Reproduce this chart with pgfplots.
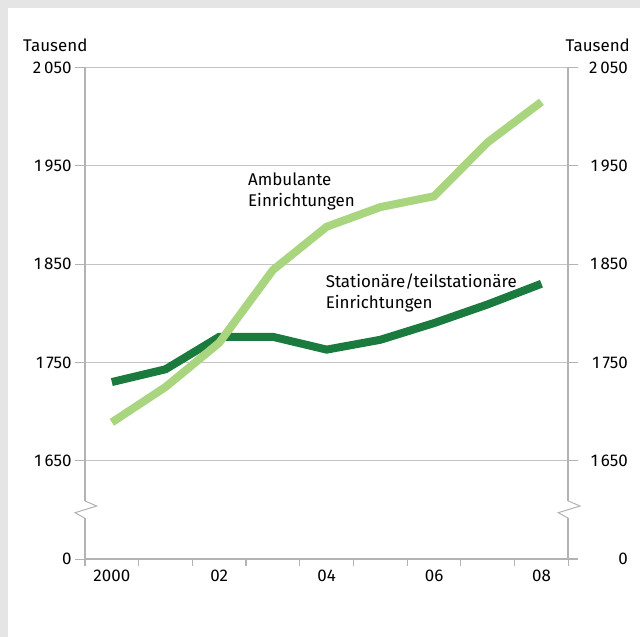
\documentclass[border=0pt]{standalone}
\usepackage{pgfplots}
\usepackage{pgfplotstable}
\pgfplotsset{compat=1.18}
\usepackage{fontspec}
\setmainfont{Fira Sans}
\definecolor{framegray}{HTML}{E5E5E5}
\definecolor{axisgray}{HTML}{B3B3B3}
\definecolor{gridgray}{HTML}{C4C4C4}
\definecolor{lightgreen}{HTML}{A8D57E}
\definecolor{darkgreen}{HTML}{1B7A3E}
\pgfplotstableread{
x amb stat
0 1689 1730
1 1725 1743
2 1770 1776
3 1844 1776
4 1888 1763
5 1908 1773
6 1919 1790
7 1974 1809
8 2015 1830
}\datatable
\begin{document}
\begin{tikzpicture}
\fill[framegray] (0,0) rectangle (640bp,637bp);
\fill[white] (8bp,0) rectangle (640bp,629bp);
\node[anchor=base west, inner sep=0pt, font=\fontsize{17}{20}\selectfont] at (23bp,585.3bp) {Tausend};
\node[anchor=base east, inner sep=0pt, font=\fontsize{17}{20}\selectfont] at (630bp,585.3bp) {Tausend};
\begin{axis}[
  at={(85bp,78bp)}, anchor=south west, scale only axis,
  width=483.3bp, height=491.5bp,
  xmin=-0.5, xmax=8.5, ymin=1550, ymax=2050,
  axis line style={draw=none},
  clip=false,
  xtick={0,2,4,6,8}, xticklabels={2000,02,04,06,08},
  minor xtick={-0.5,0.5,...,8.5},
  major x tick style={draw=none},
  minor x tick style={draw=axisgray, line width=1.2bp},
  minor tick length=7bp,
  xtick pos=bottom,
  ytick={1550,1650,1750,1850,1950,2050},
  yticklabels={0,1\,650,1\,750,1\,850,1\,950,2\,050},
  ytick pos=both, yticklabel pos=left,
  tick align=outside, major tick length=10bp,
  ytick style={draw=axisgray, line width=1bp},
  ymajorgrids, grid style={draw=gridgray, line width=1bp},
  tick label style={font=\fontsize{17}{20}\selectfont, text=black},
  xticklabel style={yshift=3bp},
]
\draw[axisgray, line width=2bp] (axis cs:-0.5,1550) -- (axis cs:8.5,1550);
\draw[axisgray, line width=2bp] (axis cs:-0.5,2050) -- (axis cs:-0.5,1609);
\draw[axisgray, line width=2bp] (axis cs:-0.5,1591.4) -- (axis cs:-0.5,1549);
\draw[axisgray, line width=1bp] (axis cs:-0.5,1609) -- ([xshift=11.7bp]axis cs:-0.5,1603.9) -- ([xshift=-10bp]axis cs:-0.5,1597.1) -- (axis cs:-0.5,1591.4);
\draw[axisgray, line width=2bp] (axis cs:8.5,2050) -- (axis cs:8.5,1609);
\draw[axisgray, line width=2bp] (axis cs:8.5,1591.4) -- (axis cs:8.5,1549);
\draw[axisgray, line width=1bp] (axis cs:8.5,1609) -- ([xshift=11.7bp]axis cs:8.5,1603.9) -- ([xshift=-10bp]axis cs:8.5,1597.1) -- (axis cs:8.5,1591.4);
\addplot[darkgreen, line width=8bp, no markers] table[x=x, y=stat] {\datatable};
\addplot[lightgreen, line width=8bp, no markers] table[x=x, y=amb] {\datatable};
\node[anchor=base west, align=left, inner sep=0pt, font=\fontsize{17}{21}\selectfont] at (axis cs:2.535,1908.4) {Ambulante\\Einrichtungen};
\node[anchor=base west, align=left, inner sep=0pt, font=\fontsize{17}{21}\selectfont] at (axis cs:3.98,1805.0) {Stationäre/teilstationäre\\Einrichtungen};
\end{axis}
\begin{axis}[
  at={(85bp,78bp)}, anchor=south west, scale only axis,
  width=483.3bp, height=491.5bp,
  xmin=-0.5, xmax=8.5, ymin=1550, ymax=2050,
  axis line style={draw=none},
  xtick=\empty,
  ytick={1550,1650,1750,1850,1950,2050},
  yticklabels={0,1\,650,1\,750,1\,850,1\,950,2\,050},
  ytick pos=right, yticklabel pos=right,
  tick align=outside, major tick length=10bp,
  ytick style={draw=axisgray, line width=1bp},
  tick label style={font=\fontsize{17}{20}\selectfont, text=black},
  yticklabel style={text width=46bp, align=right},
]
\end{axis}
\end{tikzpicture}
\end{document}
